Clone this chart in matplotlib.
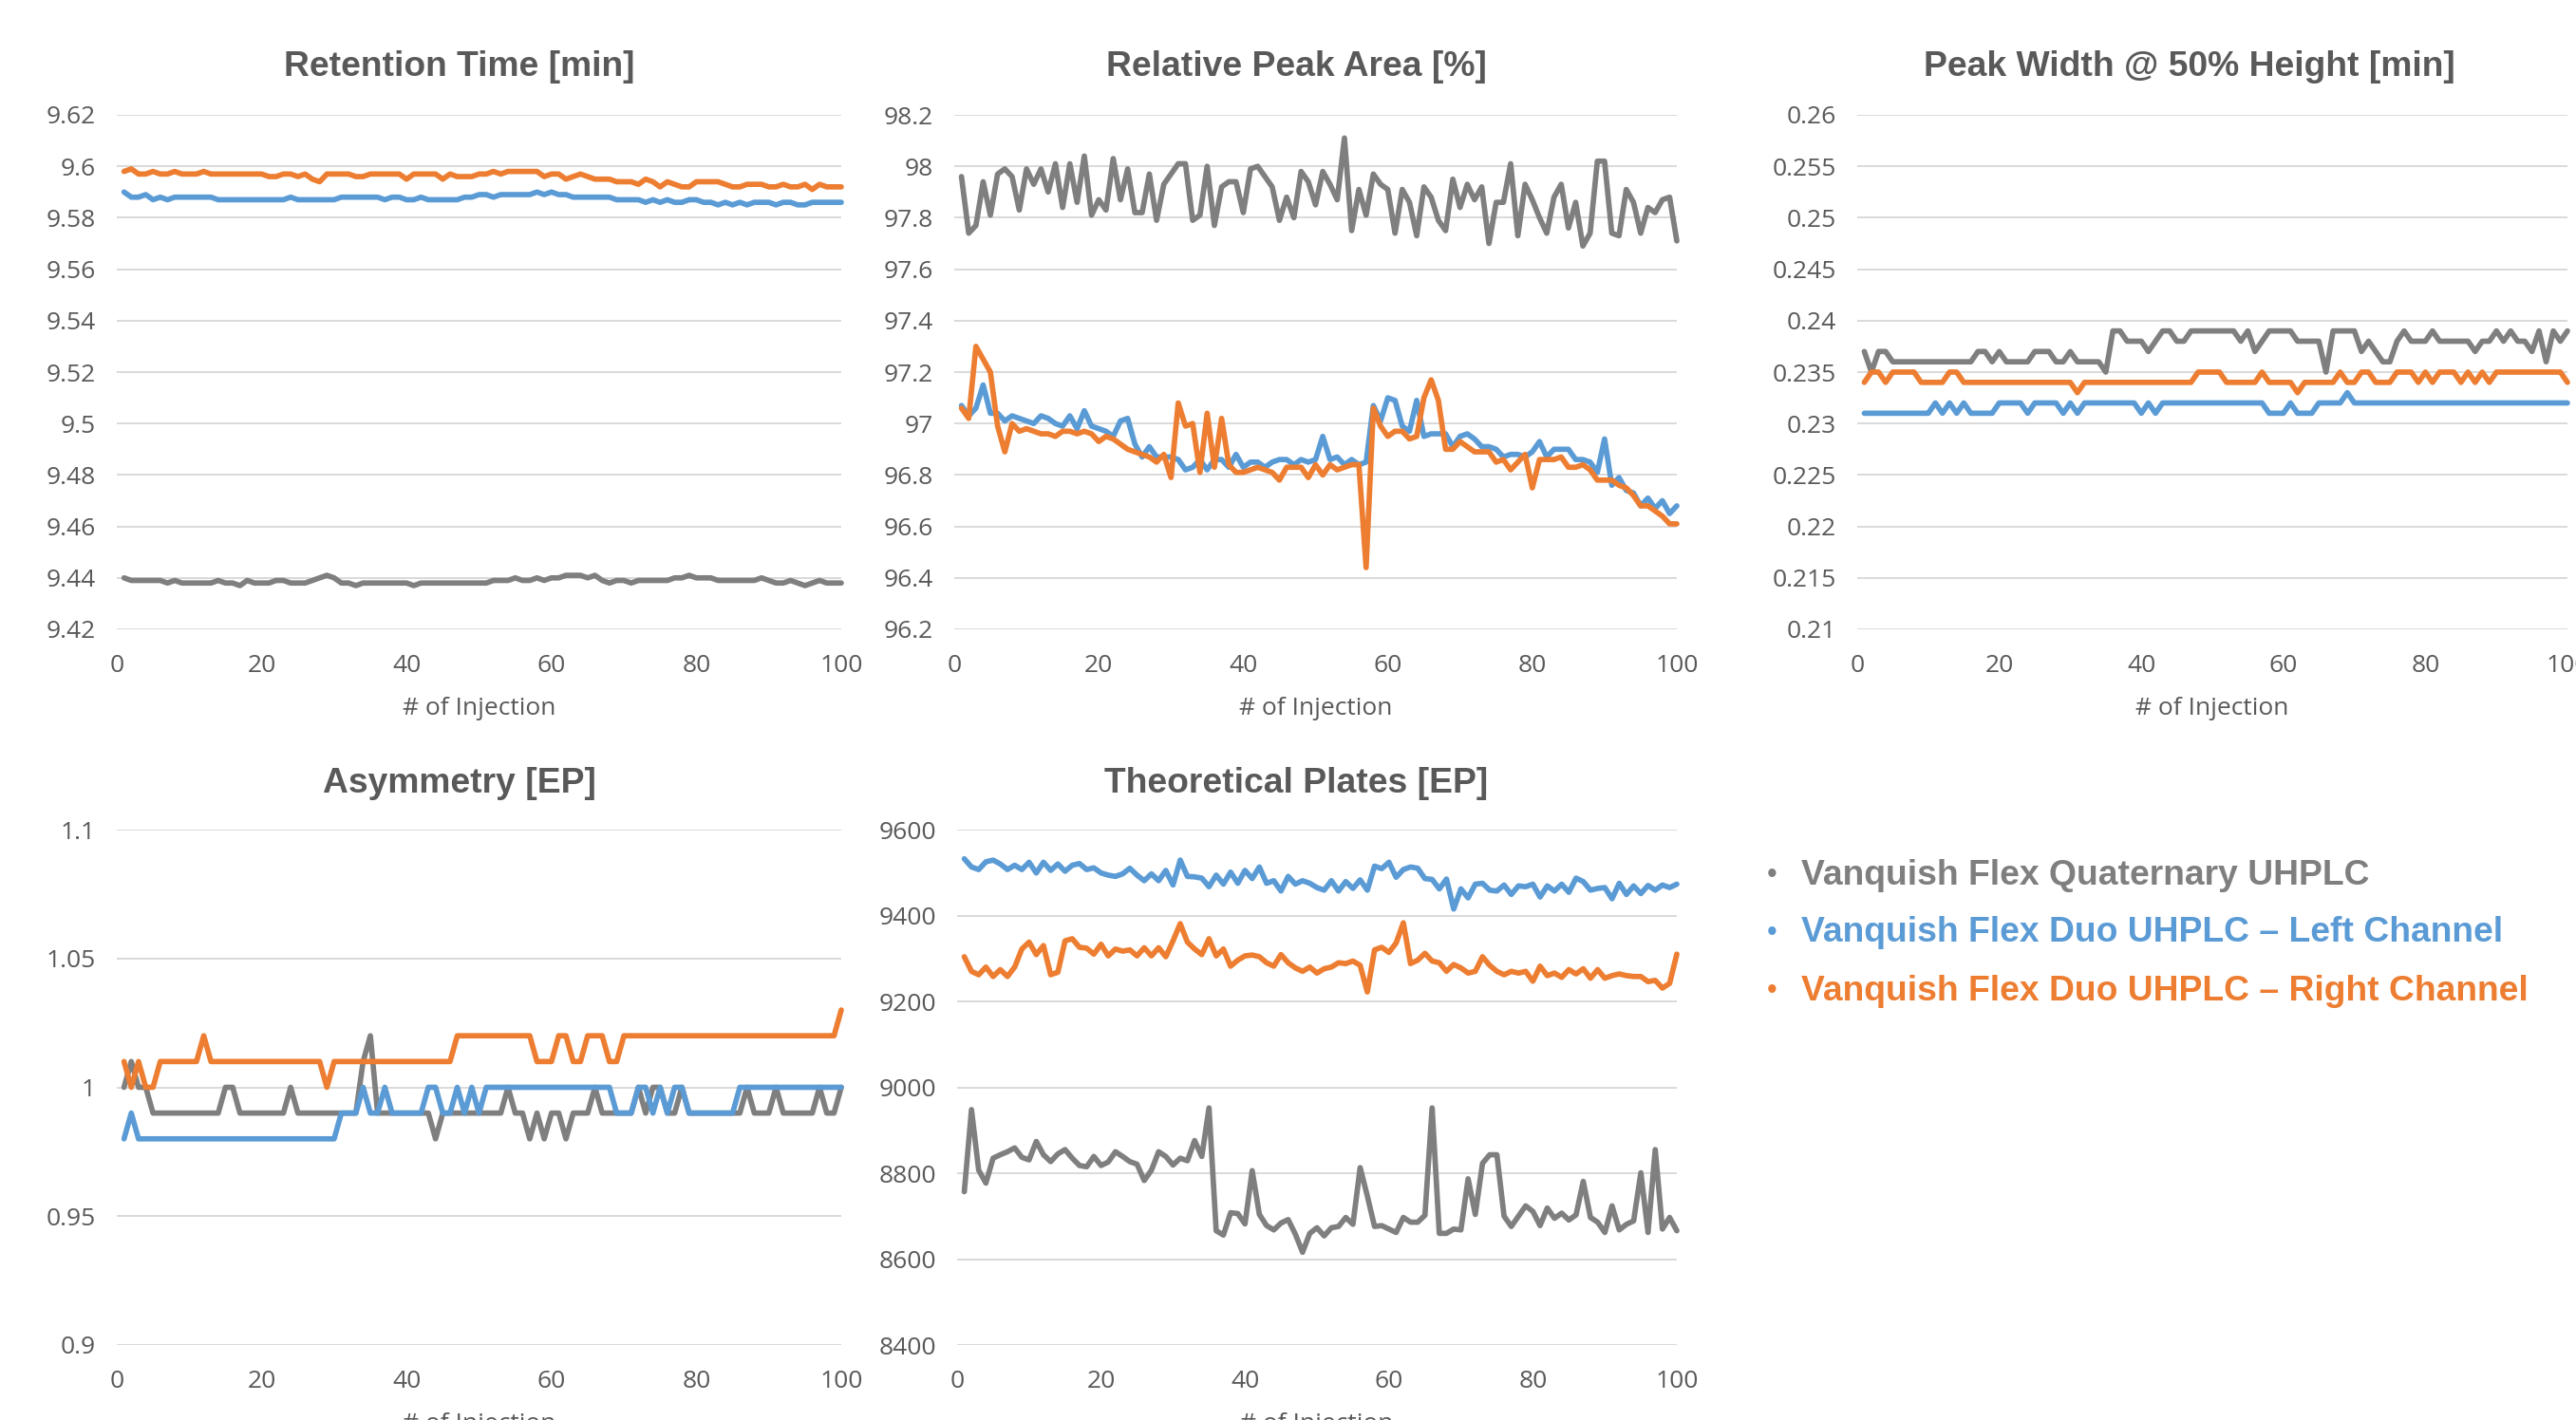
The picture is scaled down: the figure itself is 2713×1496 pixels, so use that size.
import matplotlib
matplotlib.use('Agg')
import matplotlib.pyplot as plt

# ---- data -------------------------------------------------------------
injections = list(range(1, 101))
x_ticks = [0, 20, 40, 60, 80, 100]

series_names = ['Vanquish Flex Quaternary UHPLC',
                'Vanquish Flex Duo UHPLC \u2013 Left Channel',
                'Vanquish Flex Duo UHPLC \u2013 Right Channel']

# Retention Time [min]
rt_ticks = [9.42, 9.44, 9.46, 9.48, 9.5, 9.52, 9.54, 9.56, 9.58, 9.6, 9.62]
rt_quat = [9.440, 9.439, 9.439, 9.439, 9.439, 9.439, 9.438, 9.439, 9.438, 9.438,
           9.438, 9.438, 9.438, 9.439, 9.438, 9.438, 9.437, 9.439, 9.438, 9.438,
           9.438, 9.439, 9.439, 9.438, 9.438, 9.438, 9.439, 9.440, 9.441, 9.440,
           9.438, 9.438, 9.437, 9.438, 9.438, 9.438, 9.438, 9.438, 9.438, 9.438,
           9.437, 9.438, 9.438, 9.438, 9.438, 9.438, 9.438, 9.438, 9.438, 9.438,
           9.438, 9.439, 9.439, 9.439, 9.440, 9.439, 9.439, 9.440, 9.439, 9.440,
           9.440, 9.441, 9.441, 9.441, 9.440, 9.441, 9.439, 9.438, 9.439, 9.439,
           9.438, 9.439, 9.439, 9.439, 9.439, 9.439, 9.440, 9.440, 9.441, 9.440,
           9.440, 9.440, 9.439, 9.439, 9.439, 9.439, 9.439, 9.439, 9.440, 9.439,
           9.438, 9.438, 9.439, 9.438, 9.437, 9.438, 9.439, 9.438, 9.438, 9.438]
rt_left = [9.590, 9.588, 9.588, 9.589, 9.587, 9.588, 9.587, 9.588, 9.588, 9.588,
           9.588, 9.588, 9.588, 9.587, 9.587, 9.587, 9.587, 9.587, 9.587, 9.587,
           9.587, 9.587, 9.587, 9.588, 9.587, 9.587, 9.587, 9.587, 9.587, 9.587,
           9.588, 9.588, 9.588, 9.588, 9.588, 9.588, 9.587, 9.588, 9.588, 9.587,
           9.587, 9.588, 9.587, 9.587, 9.587, 9.587, 9.587, 9.588, 9.588, 9.589,
           9.589, 9.588, 9.589, 9.589, 9.589, 9.589, 9.589, 9.590, 9.589, 9.590,
           9.589, 9.589, 9.588, 9.588, 9.588, 9.588, 9.588, 9.588, 9.587, 9.587,
           9.587, 9.587, 9.586, 9.587, 9.586, 9.587, 9.586, 9.586, 9.587, 9.587,
           9.586, 9.586, 9.585, 9.586, 9.585, 9.586, 9.585, 9.586, 9.586, 9.586,
           9.585, 9.586, 9.586, 9.585, 9.585, 9.586, 9.586, 9.586, 9.586, 9.586]
rt_right = [9.598, 9.599, 9.597, 9.597, 9.598, 9.597, 9.597, 9.598, 9.597, 9.597,
            9.597, 9.598, 9.597, 9.597, 9.597, 9.597, 9.597, 9.597, 9.597, 9.597,
            9.596, 9.596, 9.597, 9.597, 9.596, 9.597, 9.595, 9.594, 9.597, 9.597,
            9.597, 9.597, 9.596, 9.596, 9.597, 9.597, 9.597, 9.597, 9.597, 9.595,
            9.597, 9.597, 9.597, 9.597, 9.595, 9.597, 9.596, 9.596, 9.596, 9.597,
            9.597, 9.598, 9.597, 9.598, 9.598, 9.598, 9.598, 9.598, 9.596, 9.597,
            9.597, 9.595, 9.596, 9.597, 9.596, 9.595, 9.595, 9.595, 9.594, 9.594,
            9.594, 9.593, 9.595, 9.594, 9.592, 9.594, 9.593, 9.592, 9.592, 9.594,
            9.594, 9.594, 9.594, 9.593, 9.592, 9.592, 9.593, 9.593, 9.593, 9.592,
            9.592, 9.593, 9.592, 9.592, 9.593, 9.591, 9.593, 9.592, 9.592, 9.592]

# Relative Peak Area [%]
area_ticks = [96.2, 96.4, 96.6, 96.8, 97, 97.2, 97.4, 97.6, 97.8, 98, 98.2]
area_quat = [97.96, 97.74, 97.77, 97.94, 97.81, 97.97, 97.99, 97.96, 97.83, 97.99,
             97.93, 97.99, 97.90, 98.01, 97.84, 98.01, 97.86, 98.04, 97.81, 97.87,
             97.83, 98.03, 97.87, 97.99, 97.82, 97.82, 97.97, 97.79, 97.93, 97.97,
             98.01, 98.01, 97.79, 97.81, 98.00, 97.77, 97.92, 97.94, 97.94, 97.82,
             97.99, 98.00, 97.96, 97.92, 97.79, 97.88, 97.80, 97.98, 97.94, 97.85,
             97.98, 97.93, 97.87, 98.11, 97.75, 97.91, 97.81, 97.97, 97.93, 97.91,
             97.74, 97.91, 97.86, 97.73, 97.92, 97.88, 97.79, 97.75, 97.95, 97.84,
             97.93, 97.87, 97.92, 97.70, 97.86, 97.86, 98.01, 97.73, 97.93, 97.87,
             97.80, 97.74, 97.88, 97.93, 97.76, 97.86, 97.69, 97.74, 98.02, 98.02,
             97.74, 97.73, 97.91, 97.86, 97.74, 97.84, 97.82, 97.87, 97.88, 97.71]
area_left = [97.07, 97.03, 97.06, 97.15, 97.04, 97.04, 97.01, 97.03, 97.02, 97.01,
             97.00, 97.03, 97.02, 97.00, 96.99, 97.03, 96.98, 97.05, 96.99, 96.98,
             96.97, 96.95, 97.01, 97.02, 96.92, 96.87, 96.91, 96.87, 96.87, 96.87,
             96.86, 96.82, 96.83, 96.86, 96.82, 96.86, 96.86, 96.83, 96.88, 96.83,
             96.85, 96.85, 96.83, 96.85, 96.86, 96.86, 96.84, 96.86, 96.85, 96.86,
             96.95, 96.86, 96.87, 96.84, 96.86, 96.84, 96.85, 97.07, 97.01, 97.10,
             97.09, 96.99, 96.97, 97.09, 96.95, 96.96, 96.96, 96.96, 96.91, 96.95,
             96.96, 96.94, 96.91, 96.91, 96.90, 96.87, 96.88, 96.88, 96.87, 96.89,
             96.93, 96.87, 96.90, 96.90, 96.90, 96.86, 96.86, 96.85, 96.81, 96.94,
             96.76, 96.79, 96.74, 96.73, 96.68, 96.71, 96.67, 96.70, 96.65, 96.68]
area_right = [97.06, 97.02, 97.30, 97.25, 97.20, 96.99, 96.89, 97.00, 96.97, 96.98,
              96.97, 96.96, 96.96, 96.95, 96.97, 96.97, 96.96, 96.97, 96.96, 96.93,
              96.95, 96.94, 96.92, 96.90, 96.89, 96.88, 96.87, 96.85, 96.88, 96.79,
              97.08, 96.99, 97.00, 96.81, 97.04, 96.83, 97.02, 96.84, 96.81, 96.81,
              96.82, 96.83, 96.82, 96.81, 96.78, 96.83, 96.83, 96.83, 96.79, 96.84,
              96.80, 96.84, 96.82, 96.83, 96.84, 96.84, 96.44, 97.06, 96.99, 96.95,
              96.97, 96.97, 96.94, 96.95, 97.10, 97.17, 97.09, 96.90, 96.90, 96.93,
              96.91, 96.89, 96.89, 96.89, 96.85, 96.86, 96.82, 96.85, 96.88, 96.75,
              96.86, 96.86, 96.86, 96.87, 96.83, 96.83, 96.84, 96.82, 96.78, 96.78,
              96.78, 96.76, 96.75, 96.72, 96.68, 96.68, 96.66, 96.64, 96.61, 96.61]

# Peak Width @ 50% Height [min]
width_ticks = [0.21, 0.215, 0.22, 0.225, 0.23, 0.235, 0.24, 0.245, 0.25, 0.255, 0.26]
width_quat = [0.237, 0.235, 0.237, 0.237, 0.236, 0.236, 0.236, 0.236, 0.236, 0.236,
              0.236, 0.236, 0.236, 0.236, 0.236, 0.236, 0.237, 0.237, 0.236, 0.237,
              0.236, 0.236, 0.236, 0.236, 0.237, 0.237, 0.237, 0.236, 0.236, 0.237,
              0.236, 0.236, 0.236, 0.236, 0.235, 0.239, 0.239, 0.238, 0.238, 0.238,
              0.237, 0.238, 0.239, 0.239, 0.238, 0.238, 0.239, 0.239, 0.239, 0.239,
              0.239, 0.239, 0.239, 0.238, 0.239, 0.237, 0.238, 0.239, 0.239, 0.239,
              0.239, 0.238, 0.238, 0.238, 0.238, 0.235, 0.239, 0.239, 0.239, 0.239,
              0.237, 0.238, 0.237, 0.236, 0.236, 0.238, 0.239, 0.238, 0.238, 0.238,
              0.239, 0.238, 0.238, 0.238, 0.238, 0.238, 0.237, 0.238, 0.238, 0.239,
              0.238, 0.239, 0.238, 0.238, 0.237, 0.239, 0.236, 0.239, 0.238, 0.239]
width_left = [0.231, 0.231, 0.231, 0.231, 0.231, 0.231, 0.231, 0.231, 0.231, 0.231,
              0.232, 0.231, 0.232, 0.231, 0.232, 0.231, 0.231, 0.231, 0.231, 0.232,
              0.232, 0.232, 0.232, 0.231, 0.232, 0.232, 0.232, 0.232, 0.231, 0.232,
              0.231, 0.232, 0.232, 0.232, 0.232, 0.232, 0.232, 0.232, 0.232, 0.231,
              0.232, 0.231, 0.232, 0.232, 0.232, 0.232, 0.232, 0.232, 0.232, 0.232,
              0.232, 0.232, 0.232, 0.232, 0.232, 0.232, 0.232, 0.231, 0.231, 0.231,
              0.232, 0.231, 0.231, 0.231, 0.232, 0.232, 0.232, 0.232, 0.233, 0.232,
              0.232, 0.232, 0.232, 0.232, 0.232, 0.232, 0.232, 0.232, 0.232, 0.232,
              0.232, 0.232, 0.232, 0.232, 0.232, 0.232, 0.232, 0.232, 0.232, 0.232,
              0.232, 0.232, 0.232, 0.232, 0.232, 0.232, 0.232, 0.232, 0.232, 0.232]
width_right = [0.234, 0.235, 0.235, 0.234, 0.235, 0.235, 0.235, 0.235, 0.234, 0.234,
               0.234, 0.234, 0.235, 0.235, 0.234, 0.234, 0.234, 0.234, 0.234, 0.234,
               0.234, 0.234, 0.234, 0.234, 0.234, 0.234, 0.234, 0.234, 0.234, 0.234,
               0.233, 0.234, 0.234, 0.234, 0.234, 0.234, 0.234, 0.234, 0.234, 0.234,
               0.234, 0.234, 0.234, 0.234, 0.234, 0.234, 0.234, 0.235, 0.235, 0.235,
               0.235, 0.234, 0.234, 0.234, 0.234, 0.234, 0.235, 0.234, 0.234, 0.234,
               0.234, 0.233, 0.234, 0.234, 0.234, 0.234, 0.234, 0.235, 0.234, 0.234,
               0.235, 0.235, 0.234, 0.234, 0.234, 0.235, 0.235, 0.235, 0.234, 0.235,
               0.234, 0.235, 0.235, 0.235, 0.234, 0.235, 0.234, 0.235, 0.234, 0.235,
               0.235, 0.235, 0.235, 0.235, 0.235, 0.235, 0.235, 0.235, 0.235, 0.234]

# Asymmetry [EP]
asym_ticks = [0.9, 0.95, 1, 1.05, 1.1]
asym_quat = [1.00, 1.01, 1.00, 1.00, 0.99, 0.99, 0.99, 0.99, 0.99, 0.99,
             0.99, 0.99, 0.99, 0.99, 1.00, 1.00, 0.99, 0.99, 0.99, 0.99,
             0.99, 0.99, 0.99, 1.00, 0.99, 0.99, 0.99, 0.99, 0.99, 0.99,
             0.99, 0.99, 0.99, 1.01, 1.02, 0.99, 0.99, 0.99, 0.99, 0.99,
             0.99, 0.99, 0.99, 0.98, 0.99, 0.99, 0.99, 0.99, 0.99, 0.99,
             0.99, 0.99, 0.99, 1.00, 0.99, 0.99, 0.98, 0.99, 0.98, 0.99,
             0.99, 0.98, 0.99, 0.99, 0.99, 1.00, 0.99, 0.99, 0.99, 0.99,
             0.99, 1.00, 0.99, 1.00, 1.00, 0.99, 0.99, 1.00, 0.99, 0.99,
             0.99, 0.99, 0.99, 0.99, 0.99, 0.99, 1.00, 0.99, 0.99, 0.99,
             1.00, 0.99, 0.99, 0.99, 0.99, 0.99, 1.00, 0.99, 0.99, 1.00]
asym_left = [0.98, 0.99, 0.98, 0.98, 0.98, 0.98, 0.98, 0.98, 0.98, 0.98,
             0.98, 0.98, 0.98, 0.98, 0.98, 0.98, 0.98, 0.98, 0.98, 0.98,
             0.98, 0.98, 0.98, 0.98, 0.98, 0.98, 0.98, 0.98, 0.98, 0.98,
             0.99, 0.99, 0.99, 1.00, 0.99, 0.99, 1.00, 0.99, 0.99, 0.99,
             0.99, 0.99, 1.00, 1.00, 0.99, 0.99, 1.00, 0.99, 1.00, 0.99,
             1.00, 1.00, 1.00, 1.00, 1.00, 1.00, 1.00, 1.00, 1.00, 1.00,
             1.00, 1.00, 1.00, 1.00, 1.00, 1.00, 1.00, 1.00, 0.99, 0.99,
             0.99, 1.00, 1.00, 0.99, 1.00, 0.99, 1.00, 1.00, 0.99, 0.99,
             0.99, 0.99, 0.99, 0.99, 0.99, 1.00, 1.00, 1.00, 1.00, 1.00,
             1.00, 1.00, 1.00, 1.00, 1.00, 1.00, 1.00, 1.00, 1.00, 1.00]
asym_right = [1.01, 1.00, 1.01, 1.00, 1.00, 1.01, 1.01, 1.01, 1.01, 1.01,
              1.01, 1.02, 1.01, 1.01, 1.01, 1.01, 1.01, 1.01, 1.01, 1.01,
              1.01, 1.01, 1.01, 1.01, 1.01, 1.01, 1.01, 1.01, 1.00, 1.01,
              1.01, 1.01, 1.01, 1.01, 1.01, 1.01, 1.01, 1.01, 1.01, 1.01,
              1.01, 1.01, 1.01, 1.01, 1.01, 1.01, 1.02, 1.02, 1.02, 1.02,
              1.02, 1.02, 1.02, 1.02, 1.02, 1.02, 1.02, 1.01, 1.01, 1.01,
              1.02, 1.02, 1.01, 1.01, 1.02, 1.02, 1.02, 1.01, 1.01, 1.02,
              1.02, 1.02, 1.02, 1.02, 1.02, 1.02, 1.02, 1.02, 1.02, 1.02,
              1.02, 1.02, 1.02, 1.02, 1.02, 1.02, 1.02, 1.02, 1.02, 1.02,
              1.02, 1.02, 1.02, 1.02, 1.02, 1.02, 1.02, 1.02, 1.02, 1.03]

# Theoretical Plates [EP]
plates_ticks = [8400, 8600, 8800, 9000, 9200, 9400, 9600]
plates_quat = [8757, 8948, 8807, 8777, 8835, 8843, 8850, 8859, 8837, 8831,
               8874, 8843, 8827, 8845, 8855, 8835, 8818, 8815, 8839, 8818,
               8826, 8850, 8839, 8827, 8821, 8783, 8807, 8850, 8839, 8819,
               8835, 8829, 8876, 8839, 8952, 8666, 8656, 8708, 8706, 8682,
               8806, 8704, 8678, 8668, 8684, 8692, 8658, 8616, 8660, 8673,
               8654, 8673, 8676, 8697, 8681, 8813, 8747, 8676, 8678, 8670,
               8662, 8697, 8686, 8686, 8702, 8952, 8660, 8660, 8670, 8668,
               8787, 8704, 8823, 8843, 8843, 8700, 8676, 8700, 8724, 8711,
               8678, 8719, 8695, 8707, 8691, 8703, 8781, 8697, 8686, 8662,
               8724, 8668, 8681, 8689, 8801, 8662, 8855, 8670, 8697, 8666]
plates_left = [9532, 9513, 9507, 9525, 9529, 9520, 9507, 9517, 9507, 9524,
               9499, 9524, 9505, 9520, 9503, 9517, 9521, 9507, 9511, 9499,
               9494, 9491, 9497, 9510, 9494, 9481, 9497, 9481, 9505, 9471,
               9529, 9491, 9490, 9487, 9467, 9494, 9473, 9501, 9475, 9505,
               9486, 9513, 9475, 9481, 9457, 9491, 9473, 9481, 9475, 9465,
               9459, 9481, 9457, 9479, 9463, 9483, 9459, 9515, 9509, 9524,
               9489, 9507, 9513, 9510, 9486, 9484, 9462, 9485, 9415, 9462,
               9441, 9473, 9475, 9459, 9457, 9471, 9449, 9469, 9467, 9473,
               9443, 9469, 9457, 9473, 9454, 9487, 9479, 9459, 9463, 9465,
               9439, 9475, 9449, 9469, 9451, 9470, 9459, 9471, 9465, 9473]
plates_right = [9304, 9270, 9262, 9280, 9258, 9274, 9258, 9280, 9322, 9338,
                9309, 9330, 9262, 9268, 9341, 9346, 9326, 9324, 9310, 9333,
                9306, 9322, 9317, 9320, 9306, 9325, 9306, 9325, 9304, 9341,
                9381, 9338, 9322, 9309, 9346, 9306, 9322, 9282, 9296, 9306,
                9308, 9304, 9290, 9282, 9309, 9290, 9278, 9270, 9280, 9266,
                9276, 9280, 9290, 9288, 9294, 9284, 9222, 9320, 9326, 9314,
                9336, 9383, 9288, 9296, 9312, 9294, 9290, 9270, 9286, 9278,
                9266, 9270, 9304, 9284, 9270, 9262, 9270, 9266, 9270, 9247,
                9282, 9260, 9266, 9256, 9274, 9264, 9276, 9254, 9274, 9254,
                9260, 9264, 9260, 9258, 9258, 9246, 9249, 9231, 9242, 9310]

# ---- styling -----------------------------------------------------------
GRAY = '#7F7F7F'
BLUE = '#5B9BD5'
ORANGE = '#ED7D31'
TEXT = '#595959'
GRID = '#D9D9D9'
colors = [GRAY, BLUE, ORANGE]

W, H = 2713, 1496
fig = plt.figure(figsize=(W / 100, H / 100), dpi=100)
fig.patch.set_facecolor('white')


def px_axes(x0, y0, x1, y1):
    """Axes from pixel box (top-left origin)."""
    return fig.add_axes([x0 / W, 1 - y1 / H, (x1 - x0) / W, (y1 - y0) / H])


def draw_panel(box, title, title_x, title_y, yticks, data):
    ax = px_axes(*box)
    for values, c in zip(data, colors):
        ax.plot(injections, values, color=c, lw=4.1,
                solid_joinstyle='round', solid_capstyle='round', clip_on=False)
    ax.set_xlim(0, 100)
    ax.set_ylim(yticks[0], yticks[-1])
    ax.set_xticks(x_ticks)
    ax.set_yticks(yticks)
    ax.set_yticklabels([f'{t:g}' for t in yticks])
    ax.grid(axis='y', color=GRID, lw=1.4)
    ax.set_axisbelow(True)
    for s in ax.spines.values():
        s.set_visible(False)
    ax.tick_params(length=0, labelcolor=TEXT, labelsize=19)
    ax.tick_params(axis='y', pad=16)
    ax.tick_params(axis='x', pad=19)
    for lab in ax.get_xticklabels() + ax.get_yticklabels():
        lab.set_family('Open Sans')
    ax.set_xlabel('# of Injection', fontsize=19, color=TEXT,
                  family='Open Sans', labelpad=14)
    fig.text(title_x / W, 1 - title_y / H, title, ha='center', va='center',
             fontsize=26.8, fontweight='bold', color=TEXT,
             family='Liberation Sans')
    return ax


draw_panel((123, 121, 886, 663), 'Retention Time [min]', 484, 70,
           rt_ticks, [rt_quat, rt_left, rt_right])
draw_panel((1005, 121, 1766, 663), 'Relative Peak Area [%]', 1365, 70,
           area_ticks, [area_quat, area_left, area_right])
draw_panel((1956, 121, 2704, 663), 'Peak Width @ 50% Height [min]', 2306, 70,
           width_ticks, [width_quat, width_left, width_right])
draw_panel((123, 874, 886, 1417), 'Asymmetry [EP]', 484, 825,
           asym_ticks, [asym_quat, asym_left, asym_right])
draw_panel((1008, 874, 1766, 1417), 'Theoretical Plates [EP]', 1365, 825,
           plates_ticks, [plates_quat, plates_left, plates_right])

# legend as bullet list
for i, (name, c) in enumerate(zip(series_names, colors)):
    y = 1 - (922 + i * 61) / H
    fig.text(1866 / W, y, '\u2022', ha='center', va='center', fontsize=22,
             color=c, family='Liberation Sans')
    fig.text(1897 / W, y, name, ha='left', va='center', fontsize=26.8,
             fontweight='bold', color=c, family='Liberation Sans')

fig.savefig('out.png', dpi=100, facecolor='white')
